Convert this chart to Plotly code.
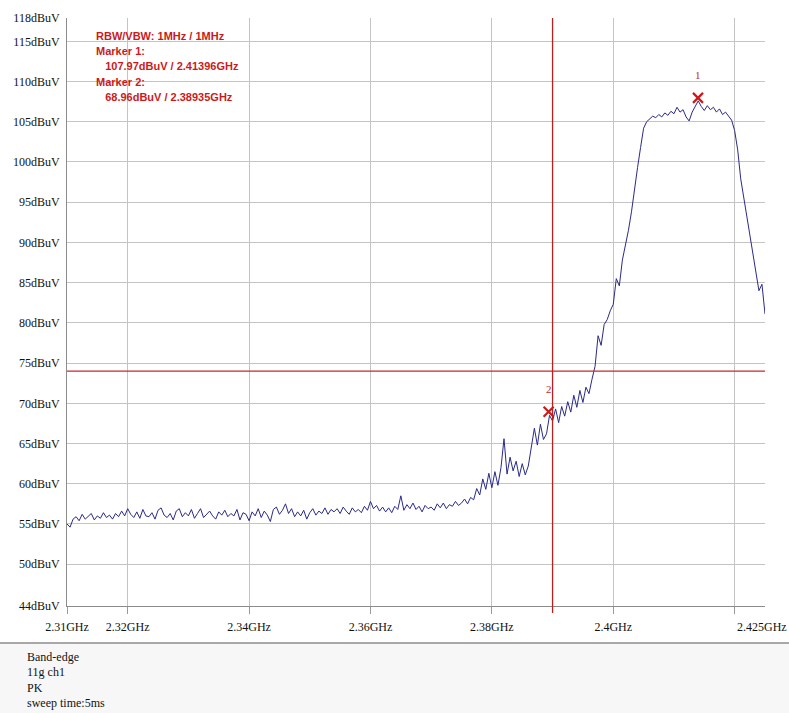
import plotly.graph_objects as go

# sweep grid: 2.310 .. 2.425 GHz, 0.5 MHz per point
freq_start = 2.310
freq_step = 0.0005

# level in dBuV, one row per 10 MHz
level = [
    55.0, 54.6, 55.6, 55.9, 55.4, 56.2, 55.6, 55.9, 56.3, 55.5, 56.0, 55.7, 56.4, 55.8, 56.1, 55.6, 56.3, 55.9, 56.6, 56.0,
    56.9, 56.2, 55.8, 56.5, 55.7, 56.8, 56.0, 55.9, 56.4, 55.6, 56.7, 57.0, 56.1, 55.8, 56.3, 55.5, 56.6, 56.9, 55.9, 56.4,
    56.0, 56.8, 55.7, 56.3, 56.9, 55.8, 56.2, 56.6, 56.0, 55.6, 56.5, 56.1, 56.7, 55.9, 56.3, 56.0, 56.8, 55.5, 56.4, 56.2,
    55.4, 56.5, 56.0, 56.9, 55.8, 56.6, 56.1, 55.3, 56.8, 57.1, 56.2, 56.7, 57.5, 56.3, 56.9, 55.9, 56.5, 56.0, 56.7, 55.6,
    56.4, 56.9, 56.1, 56.6, 56.3, 57.0, 56.2, 56.8, 56.5, 56.9, 56.3, 57.1, 56.6, 56.2, 57.0, 56.5, 56.8, 56.4, 57.2, 56.7,
    57.8, 56.9, 57.3, 56.6, 57.1, 56.5, 57.0, 56.4, 57.2, 56.8, 58.5, 56.7, 57.4, 56.9, 57.6, 56.8, 57.2, 56.5, 57.3, 56.9,
    57.1, 56.7, 57.5, 57.0, 57.6, 56.9, 57.4, 57.2, 57.8, 57.3, 57.6, 58.1, 57.5, 58.3, 58.0, 59.4, 58.6, 60.6, 59.3, 61.3,
    59.5, 61.5, 59.8, 62.0, 65.6, 61.2, 63.3, 61.6, 62.8, 60.9, 62.5, 61.1, 62.2, 64.6, 66.9, 64.8, 67.4, 65.5, 66.2, 68.5,
    67.8, 69.3, 67.6, 69.6, 68.4, 70.2, 68.9, 71.0, 69.5, 71.6, 70.1, 72.0, 71.2, 73.0, 74.6, 78.4, 77.2, 79.8, 80.4, 81.5,
    82.3, 85.5, 84.6, 87.8, 89.6, 91.5, 93.8, 96.8, 99.3, 101.8, 104.2, 105.0, 105.4, 105.7, 105.5, 105.9, 105.6, 106.1, 105.8, 106.3,
    106.0, 106.8, 106.2, 106.5, 105.6, 105.1, 106.2, 106.9, 107.6, 106.9, 106.4, 107.0, 106.5, 106.8, 106.2, 106.6, 105.9, 106.2, 105.7, 105.2,
    103.9, 101.5, 97.9, 95.6, 93.2, 90.6, 88.3, 86.1, 84.0, 84.8, 81.1,
]
freq = [round(freq_start + i * freq_step, 4) for i in range(len(level))]

marker_names = ["1", "2"]
marker_freq = [2.41396, 2.38935]
marker_level = [107.97, 68.96]

limit_level = 74
edge_freq = 2.39

x_ticks = [2.31, 2.32, 2.34, 2.36, 2.38, 2.40, 2.42]
x_labels = ["2.31GHz", "2.32GHz", "2.34GHz", "2.36GHz", "2.38GHz", "2.4GHz", ""]
x_end_label = "2.425GHz"
y_ticks = [44.8, 50, 55, 60, 65, 70, 75, 80, 85, 90, 95, 100, 105, 110, 115, 117.9]
y_labels = ["44dBuV", "50dBuV", "55dBuV", "60dBuV", "65dBuV", "70dBuV", "75dBuV", "80dBuV", "85dBuV",
            "90dBuV", "95dBuV", "100dBuV", "105dBuV", "110dBuV", "115dBuV", "118dBuV"]

info_lines = ["RBW/VBW: 1MHz / 1MHz", "Marker 1:", "&nbsp;&nbsp;&nbsp;107.97dBuV / 2.41396GHz",
              "Marker 2:", "&nbsp;&nbsp;&nbsp;68.96dBuV / 2.38935GHz"]
notes = ["Band-edge", "11g ch1", "PK", "sweep time:5ms"]

W, H = 789, 713
L, R, T, B = 67, 24, 18, 107
PH = H - T - B
PW = W - L - R


def px(x):
    return (x - L) / PW


def py(y):
    return (H - B - y) / PH


RED = "#cc1a1a"
SERIF = "Liberation Serif, Times New Roman, serif"

fig = go.Figure()
fig.add_trace(go.Scatter(x=freq, y=level, mode="lines",
                         line=dict(color="#2a2a8a", width=1), hoverinfo="skip"))
fig.add_trace(go.Scatter(x=marker_freq, y=marker_level, mode="markers", hoverinfo="skip",
                         marker=dict(symbol="x-thin", size=10, line=dict(color=RED, width=2.2))))
for name, f, lv in zip(marker_names, marker_freq, marker_level):
    fig.add_annotation(x=f, y=lv, text=name, showarrow=False, yshift=23,
                       font=dict(family=SERIF, size=11, color="#b83030"))

fig.add_shape(type="line", xref="paper", x0=0, x1=1, yref="y", y0=limit_level, y1=limit_level,
              line=dict(color="#c82828", width=1.3))
fig.add_shape(type="line", xref="x", x0=edge_freq, x1=edge_freq, yref="paper", y0=-0.012, y1=1,
              line=dict(color="#b82020", width=1.3))

# footer panel
fig.add_shape(type="rect", xref="paper", yref="paper", x0=px(0), x1=px(W), y0=py(H), y1=py(643),
              fillcolor="#f7f7f7", line=dict(width=0), layer="below")
fig.add_shape(type="line", xref="paper", yref="paper", x0=px(0), x1=px(W), y0=py(643), y1=py(643),
              line=dict(color="#a8a8a8", width=2))

# end-of-span frequency label, right-aligned at the page edge
fig.add_annotation(text=x_end_label, xref="paper", yref="paper", x=px(W), y=py(627),
                   xanchor="right", yanchor="middle", showarrow=False,
                   font=dict(family=SERIF, size=12, color="#111111"))

for i, t in enumerate(info_lines):
    fig.add_annotation(text="<b>" + t + "</b>", xref="paper", yref="paper",
                       x=px(94), y=py(36 + i * 15.2), xanchor="left", yanchor="middle", showarrow=False,
                       font=dict(family="Liberation Sans, Arial, sans-serif", size=11, color=RED))

for i, t in enumerate(notes):
    fig.add_annotation(text=t, xref="paper", yref="paper",
                       x=px(25), y=py(657 + i * 15.3), xanchor="left", yanchor="middle", showarrow=False,
                       font=dict(family=SERIF, size=12, color="#111111"))

fig.update_xaxes(range=[2.3099999, 2.4250001], tickvals=x_ticks, ticktext=x_labels,
                 showgrid=True, gridcolor="#c4c4c4", gridwidth=1,
                 showline=True, linecolor="#8c8c8c", linewidth=1,
                 ticks="outside", ticklen=7, tickcolor="#9a9a9a", automargin=False,
                 ticklabelstandoff=3,
                 tickfont=dict(family=SERIF, size=12, color="#111111"), zeroline=False)
fig.update_yaxes(range=[44.8, 117.9], tickvals=y_ticks, ticktext=y_labels,
                 showgrid=True, gridcolor="#c4c4c4", gridwidth=1,
                 showline=True, linecolor="#8c8c8c", linewidth=1,
                 ticks="", ticklabelstandoff=4, automargin=False,
                 tickfont=dict(family=SERIF, size=12, color="#111111"), zeroline=False)

fig.update_layout(width=W, height=H, margin=dict(l=L, r=R, t=T, b=B),
                  plot_bgcolor="white", paper_bgcolor="white", showlegend=False)

fig.write_html("out.html", config={"displayModeBar": False},
               post_script="document.body.style.margin='0';document.documentElement.style.overflow='hidden';")
